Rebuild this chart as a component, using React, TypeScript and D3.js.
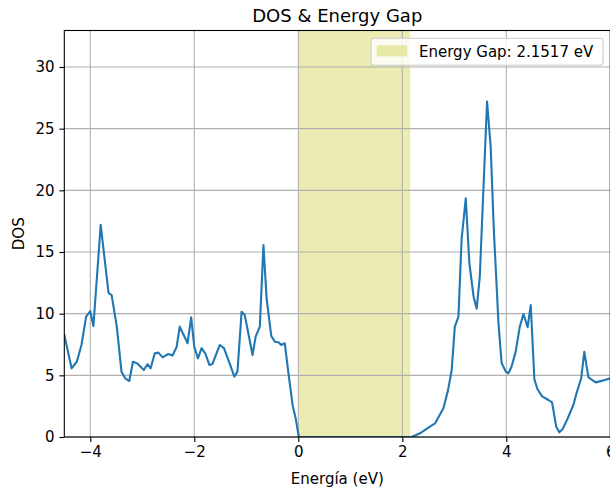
import React, { useEffect, useRef } from "react";
import * as d3 from "d3";

// energy (eV) and DOS values
const energy = [
  -4.5, -4.36, -4.26, -4.17, -4.08, -4.0, -3.94, -3.8, -3.65, -3.59, -3.49, -3.4, -3.33, -3.25,
  -3.18, -3.1, -2.97, -2.9, -2.84, -2.76, -2.69, -2.61, -2.5, -2.42, -2.34, -2.28, -2.13, -2.06,
  -2.0, -1.93, -1.86, -1.79, -1.71, -1.65, -1.51, -1.43, -1.31, -1.23, -1.17, -1.09, -1.03,
  -0.88, -0.82, -0.74, -0.67, -0.61, -0.52, -0.45, -0.38, -0.33, -0.26, -0.19, -0.11, -0.05,
  0.01, 2.18, 2.34, 2.53, 2.63, 2.79, 2.88, 2.95, 3.01, 3.08, 3.14, 3.22, 3.29, 3.37, 3.43,
  3.49, 3.63, 3.7, 3.76, 3.85, 3.91, 3.99, 4.04, 4.1, 4.18, 4.26, 4.33, 4.41, 4.47, 4.54, 4.6,
  4.69, 4.81, 4.88, 4.96, 5.02, 5.08, 5.18, 5.29, 5.35, 5.44, 5.5, 5.58, 5.72, 5.85, 6.0, 6.1,
];
const dos = [
  8.3, 5.57, 6.1, 7.46, 9.76, 10.2, 9.0, 17.2, 11.7, 11.5, 8.95, 5.3, 4.76, 4.54,
  6.1, 5.97, 5.43, 5.9, 5.57, 6.78, 6.84, 6.46, 6.73, 6.6, 7.3, 8.95, 7.6, 9.7,
  7.3, 6.38, 7.2, 6.78, 5.84, 5.92, 7.46, 7.2, 5.84, 4.9, 5.3, 10.16, 9.9,
  6.65, 8.14, 8.95, 15.57, 11.25, 8.19, 7.73, 7.68, 7.46, 7.6, 5.17, 2.6, 1.5,
  0, 0, 0.3, 0.84, 1.1, 2.33, 3.8, 5.43, 8.95, 9.76, 16.0, 19.35, 14.1, 11.4, 10.4,
  13.0, 27.2, 23.5, 16.8, 9.2, 6.0, 5.3, 5.17, 5.7, 6.9, 8.95, 9.97, 8.9, 10.7, 4.68, 3.87,
  3.3, 3.0, 2.8, 0.84, 0.38, 0.62, 1.5, 2.6, 3.54, 4.76, 6.9, 4.84, 4.43, 4.57, 4.76, 4.8,
];
const gapStart = 0;
const gapEnd = 2.1517;
const xTicks = [-4, -2, 0, 2, 4, 6];
const yTicks = [0, 5, 10, 15, 20, 25, 30];

const W = 610;
const H = 491;
const m = { left: 64.3, top: 30.5, right: 610.3, bottom: 437 };
const font = "DejaVu Sans, sans-serif";
const fs = 15;

const App = () => {
  const ref = useRef<SVGSVGElement>(null);

  useEffect(() => {
    const svg = d3.select(ref.current);
    svg.selectAll("*").remove();

    const x = d3.scaleLinear().domain([-4.5, 6]).range([m.left, m.right]);
    const y = d3.scaleLinear().domain([0, 32.96]).range([m.bottom, m.top]);

    svg.append("rect").attr("width", W).attr("height", H).attr("fill", "white");

    svg.append("defs").append("clipPath").attr("id", "clip")
      .append("rect")
      .attr("x", m.left).attr("y", m.top)
      .attr("width", m.right - m.left).attr("height", m.bottom - m.top);

    // energy gap band
    svg.append("rect")
      .attr("x", x(gapStart)).attr("y", m.top)
      .attr("width", x(gapEnd) - x(gapStart)).attr("height", m.bottom - m.top)
      .attr("fill", "#bfbf00").attr("fill-opacity", 0.3);

    // grid
    const grid = svg.append("g").attr("stroke", "#b0b0b0").attr("stroke-width", 1.1);
    xTicks.forEach((t) => {
      grid.append("line").attr("x1", x(t)).attr("x2", x(t)).attr("y1", m.top).attr("y2", m.bottom);
    });
    yTicks.forEach((t) => {
      grid.append("line").attr("x1", m.left).attr("x2", m.right).attr("y1", y(t)).attr("y2", y(t));
    });

    const line = d3.line<number>().x((d, i) => x(energy[i])).y((d) => y(d));
    svg.append("path")
      .datum(dos)
      .attr("clip-path", "url(#clip)")
      .attr("d", line)
      .attr("fill", "none")
      .attr("stroke", "#1f77b4")
      .attr("stroke-width", 2.1)
      .attr("stroke-linejoin", "round")
      .attr("stroke-linecap", "square");

    // spines
    svg.append("rect")
      .attr("x", m.left).attr("y", m.top)
      .attr("width", m.right - m.left).attr("height", m.bottom - m.top)
      .attr("fill", "none").attr("stroke", "#000").attr("stroke-width", 1.1);

    const xAxis = svg.append("g")
      .attr("transform", `translate(0,${m.bottom})`)
      .call(d3.axisBottom(x).tickValues(xTicks).tickSize(4.9).tickPadding(4.9)
        .tickFormat((d) => d3.format("")(d as number).replace("-", "\u2212")));
    xAxis.select(".domain").remove();
    xAxis.selectAll("text").attr("font-family", font).attr("font-size", fs).attr("fill", "#000");
    xAxis.selectAll("line").attr("stroke-width", 1.1);

    const yAxis = svg.append("g")
      .attr("transform", `translate(${m.left},0)`)
      .call(d3.axisLeft(y).tickValues(yTicks).tickSize(4.9).tickPadding(4.9));
    yAxis.select(".domain").remove();
    yAxis.selectAll("text").attr("font-family", font).attr("font-size", fs).attr("fill", "#000");
    yAxis.selectAll("line").attr("stroke-width", 1.1);

    svg.append("text")
      .attr("x", (m.left + m.right) / 2).attr("y", 21.5)
      .attr("text-anchor", "middle").attr("font-family", font).attr("font-size", 18)
      .text("DOS & Energy Gap");

    svg.append("text")
      .attr("x", (m.left + m.right) / 2).attr("y", 483.5)
      .attr("text-anchor", "middle").attr("font-family", font).attr("font-size", fs)
      .text("Energía (eV)");

    svg.append("text")
      .attr("transform", `translate(24,${(m.top + m.bottom) / 2}) rotate(-90)`)
      .attr("text-anchor", "middle").attr("font-family", font).attr("font-size", fs)
      .text("DOS");

    // legend
    const lg = svg.append("g");
    lg.append("rect")
      .attr("x", 371).attr("y", 38.3).attr("width", 232).attr("height", 27)
      .attr("rx", 2.8).attr("fill", "white").attr("fill-opacity", 0.8)
      .attr("stroke", "#cccccc").attr("stroke-width", 1.1);
    lg.append("rect")
      .attr("x", 376.7).attr("y", 45.3).attr("width", 30.6).attr("height", 11)
      .attr("fill", "#bfbf00").attr("fill-opacity", 0.3);
    lg.append("text")
      .attr("x", 419).attr("y", 57)
      .attr("font-family", font).attr("font-size", fs)
      .text("Energy Gap: 2.1517 eV");
  }, []);

  return (
    <svg
      ref={ref}
      width={W}
      height={H}
      style={{ position: "absolute", left: 0, top: 0, display: "block" }}
    />
  );
};

export default App;
